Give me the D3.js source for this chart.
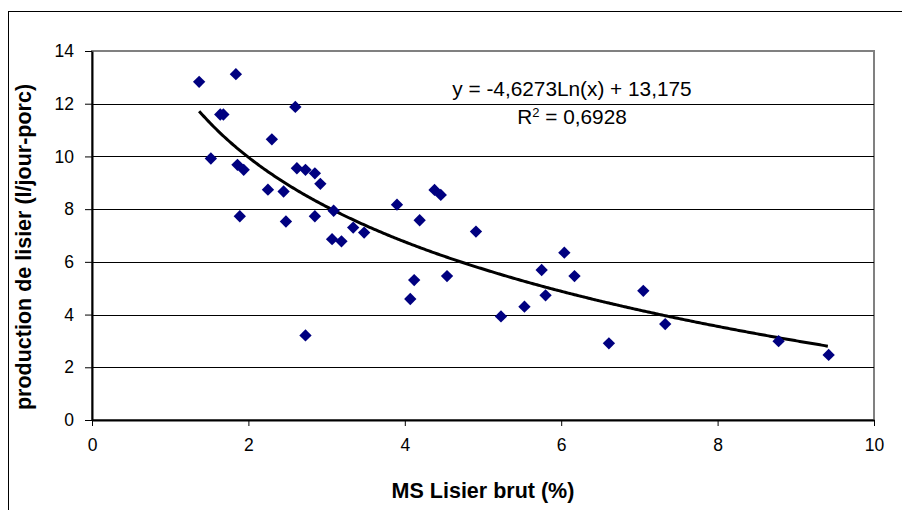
<!DOCTYPE html>
<html>
<head>
<meta charset="utf-8">
<script src="https://cdn.jsdelivr.net/npm/d3@7"></script>
<style>
  html, body { margin: 0; padding: 0; background: #fff; }
  svg { display: block; font-family: Arial, "Liberation Sans", sans-serif; }
</style>
</head>
<body>
<svg id="chart" width="902" height="510"></svg>
<script>
// ---- data ----
const msLisier = [1.37, 1.84, 2.60, 1.64, 1.68, 2.30, 1.52, 1.86, 1.94, 2.62, 2.73, 2.85, 2.92, 2.25, 2.45,
  3.09, 1.89, 2.48, 2.85, 3.34, 3.48, 3.07, 3.19, 2.73, 4.38, 4.46, 3.90, 4.19, 4.91, 4.12, 4.07, 4.54,
  5.23, 5.53, 5.75, 5.80, 6.04, 6.17, 6.61, 7.05, 7.33, 8.78, 9.42];
const production = [12.83, 13.12, 11.88, 11.59, 11.59, 10.65, 9.92, 9.68, 9.49, 9.55, 9.49, 9.36, 8.96, 8.74, 8.67,
  7.94, 7.73, 7.53, 7.73, 7.30, 7.11, 6.86, 6.78, 3.21, 8.73, 8.54, 8.17, 7.58, 7.15, 5.31, 4.59, 5.46,
  3.93, 4.30, 5.69, 4.73, 6.35, 5.46, 2.91, 4.90, 3.64, 2.99, 2.47];
const xTicks = [0, 2, 4, 6, 8, 10];
const yTicks = [0, 2, 4, 6, 8, 10, 12, 14];
// logarithmic trend line shown on the chart: y = a*ln(x) + b
const trendA = -4.6273;
const trendB = 13.175;
const equationText = "y = -4,6273Ln(x) + 13,175";
const r2Value = "0,6928";
const xTitle = "MS Lisier brut (%)";
const yTitle = "production de lisier (l/jour-porc)";

// ---- layout ----
const svg = d3.select("#chart");
const plot = { left: 92, right: 874, top: 51, bottom: 420 };
const x = d3.scaleLinear().domain([0, 10]).range([plot.left, plot.right]);
const y = d3.scaleLinear().domain([0, 14]).range([plot.bottom, plot.top]);

// outer chart frame
svg.append("rect").attr("x", 8.5).attr("y", 11.5).attr("width", 1000).attr("height", 1000)
  .attr("fill", "#fff").attr("stroke", "#000").attr("stroke-width", 1);

// plot area frame (top/right gray)
svg.append("rect").attr("x", plot.left).attr("y", plot.top)
  .attr("width", plot.right - plot.left).attr("height", plot.bottom - plot.top)
  .attr("fill", "#fff").attr("stroke", "#808080").attr("stroke-width", 2);

// gridlines
svg.append("g").selectAll("line").data(yTicks.filter(d => d > 0 && d < 14)).join("line")
  .attr("x1", plot.left).attr("x2", plot.right)
  .attr("y1", d => Math.round(y(d)) + 0.5).attr("y2", d => Math.round(y(d)) + 0.5)
  .attr("stroke", "#000").attr("stroke-width", 1);

// axes
const fontTick = "17.5px";
const yAxis = svg.append("g").attr("transform", `translate(${plot.left},0)`)
  .call(d3.axisLeft(y).tickValues(yTicks).tickSize(7).tickPadding(11).tickSizeOuter(0));
const xAxis = svg.append("g").attr("transform", `translate(0,${plot.bottom})`)
  .call(d3.axisBottom(x).tickValues(xTicks).tickSize(6).tickPadding(13).tickSizeOuter(0));
[xAxis, yAxis].forEach(g => {
  g.select(".domain").attr("stroke", "#000").attr("stroke-width", 2);
  g.selectAll(".tick line").attr("stroke", "#000").attr("stroke-width", 1);
  g.selectAll(".tick text").attr("fill", "#000").style("font-size", fontTick)
    .style("font-family", "Arial, 'Liberation Sans', sans-serif");
});

// trend line
const xs = d3.range(d3.min(msLisier), d3.max(msLisier) + 0.0001, 0.02);
const line = d3.line().x(d => x(d)).y(d => y(trendA * Math.log(d) + trendB));
svg.append("path").datum(xs).attr("d", line)
  .attr("fill", "none").attr("stroke", "#000").attr("stroke-width", 3);

// points (diamonds)
const pts = msLisier.map((v, i) => [v, production[i]]);
svg.append("g").selectAll("path").data(pts).join("path")
  .attr("d", d3.symbol(d3.symbolSquare, 76)())
  .attr("transform", d => `translate(${x(d[0])},${y(d[1])}) rotate(45)`)
  .attr("fill", "#000080");

// equation labels
svg.append("text").attr("x", 572).attr("y", 96).attr("text-anchor", "middle")
  .style("font-size", "20.8px").attr("fill", "#000").text(equationText);
const r2 = svg.append("text").attr("x", 572).attr("y", 124).attr("text-anchor", "middle")
  .style("font-size", "20.8px").attr("fill", "#000");
r2.append("tspan").text("R");
r2.append("tspan").attr("dy", -7).style("font-size", "13px").text("2");
r2.append("tspan").attr("dy", 7).text(" = " + r2Value);

// axis titles
svg.append("text").attr("x", 483).attr("y", 498).attr("text-anchor", "middle")
  .style("font-size", "21.5px").style("font-weight", "bold").attr("fill", "#000").text(xTitle);
svg.append("text").attr("transform", `translate(31,247) rotate(-90)`)
  .attr("text-anchor", "middle").style("font-size", "21.5px").style("font-weight", "bold")
  .attr("fill", "#000").text(yTitle);
</script>
</body>
</html>
